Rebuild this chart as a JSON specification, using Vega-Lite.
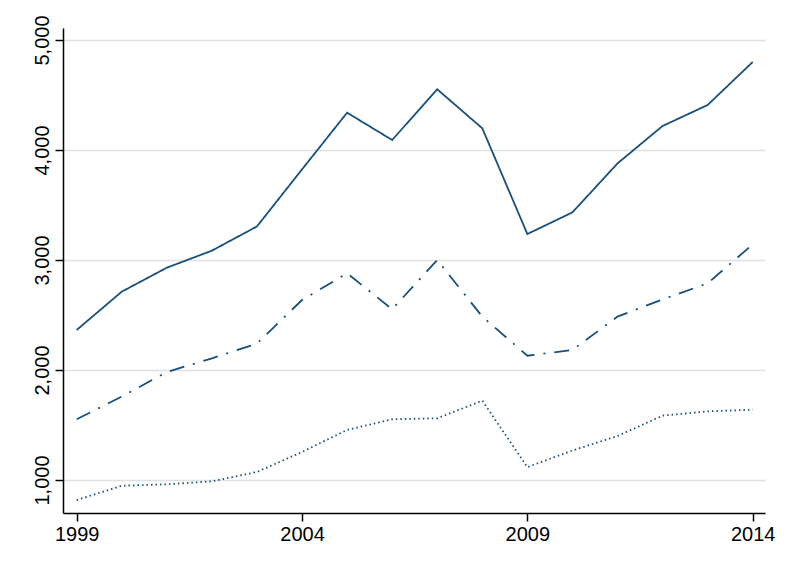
{
  "$schema": "https://vega.github.io/schema/vega-lite/v6.json",
  "width": 702,
  "height": 485,
  "autosize": {"type": "none"},
  "padding": {"left": 63, "top": 28, "right": 28, "bottom": 64},
  "background": "white",
  "config": {
    "view": {"stroke": null},
    "font": "Liberation Sans"
  },
  "data": {
    "values": [
      {"year": 1999, "series": "A", "value": 2364},
      {"year": 2000, "series": "A", "value": 2712},
      {"year": 2001, "series": "A", "value": 2930},
      {"year": 2002, "series": "A", "value": 3085},
      {"year": 2003, "series": "A", "value": 3305},
      {"year": 2004, "series": "A", "value": 3824},
      {"year": 2005, "series": "A", "value": 4339},
      {"year": 2006, "series": "A", "value": 4091},
      {"year": 2007, "series": "A", "value": 4552},
      {"year": 2008, "series": "A", "value": 4197},
      {"year": 2009, "series": "A", "value": 3236},
      {"year": 2010, "series": "A", "value": 3433},
      {"year": 2011, "series": "A", "value": 3878},
      {"year": 2012, "series": "A", "value": 4218},
      {"year": 2013, "series": "A", "value": 4409},
      {"year": 2014, "series": "A", "value": 4800},
      {"year": 1999, "series": "B", "value": 1552},
      {"year": 2000, "series": "B", "value": 1758},
      {"year": 2001, "series": "B", "value": 1982},
      {"year": 2002, "series": "B", "value": 2106},
      {"year": 2003, "series": "B", "value": 2240},
      {"year": 2004, "series": "B", "value": 2636},
      {"year": 2005, "series": "B", "value": 2879},
      {"year": 2006, "series": "B", "value": 2552},
      {"year": 2007, "series": "B", "value": 3000},
      {"year": 2008, "series": "B", "value": 2485},
      {"year": 2009, "series": "B", "value": 2130},
      {"year": 2010, "series": "B", "value": 2182},
      {"year": 2011, "series": "B", "value": 2485},
      {"year": 2012, "series": "B", "value": 2642},
      {"year": 2013, "series": "B", "value": 2788},
      {"year": 2014, "series": "B", "value": 3142},
      {"year": 1999, "series": "C", "value": 818},
      {"year": 2000, "series": "C", "value": 948},
      {"year": 2001, "series": "C", "value": 961},
      {"year": 2002, "series": "C", "value": 988},
      {"year": 2003, "series": "C", "value": 1073},
      {"year": 2004, "series": "C", "value": 1255},
      {"year": 2005, "series": "C", "value": 1455},
      {"year": 2006, "series": "C", "value": 1552},
      {"year": 2007, "series": "C", "value": 1561},
      {"year": 2008, "series": "C", "value": 1721},
      {"year": 2009, "series": "C", "value": 1117},
      {"year": 2010, "series": "C", "value": 1268},
      {"year": 2011, "series": "C", "value": 1400},
      {"year": 2012, "series": "C", "value": 1585},
      {"year": 2013, "series": "C", "value": 1624},
      {"year": 2014, "series": "C", "value": 1639}
    ]
  },
  "mark": {"type": "line", "color": "#17507d", "strokeWidth": 1.8, "clip": true},
  "encoding": {
    "x": {
      "field": "year",
      "type": "quantitative",
      "scale": {"domain": [1998.696, 2014.273], "nice": false, "zero": false},
      "axis": {
        "title": null,
        "values": [1999, 2004, 2009, 2014],
        "format": "d",
        "grid": false,
        "domainColor": "black",
        "domainWidth": 1.5,
        "tickColor": "black",
        "tickWidth": 1.5,
        "tickSize": 8,
        "labelFontSize": 20,
        "labelColor": "black",
        "labelPadding": 3,
        "labelFlush": false
      }
    },
    "y": {
      "field": "value",
      "type": "quantitative",
      "scale": {"domain": [700, 5109], "nice": false, "zero": false},
      "axis": {
        "title": null,
        "values": [1000, 2000, 3000, 4000, 5000],
        "format": ",d",
        "grid": true,
        "gridColor": "#e0e0e0",
        "gridWidth": 1.5,
        "domainColor": "black",
        "domainWidth": 1.5,
        "tickColor": "black",
        "tickWidth": 1.5,
        "tickSize": 8,
        "labelFontSize": 20,
        "labelColor": "black",
        "labelAngle": -90,
        "labelAlign": "center",
        "labelBaseline": "alphabetic",
        "labelPadding": 7
      }
    },
    "detail": {"field": "series"},
    "strokeDash": {
      "field": "series",
      "type": "nominal",
      "scale": {"domain": ["A", "B", "C"], "range": [[1, 0], [15, 9, 2, 9], [1.5, 3]]},
      "legend": null
    },
    "opacity": {
      "field": "series",
      "type": "nominal",
      "scale": {"domain": ["A", "B", "C"], "range": [1, 1, 0.7]},
      "legend": null
    }
  }
}
